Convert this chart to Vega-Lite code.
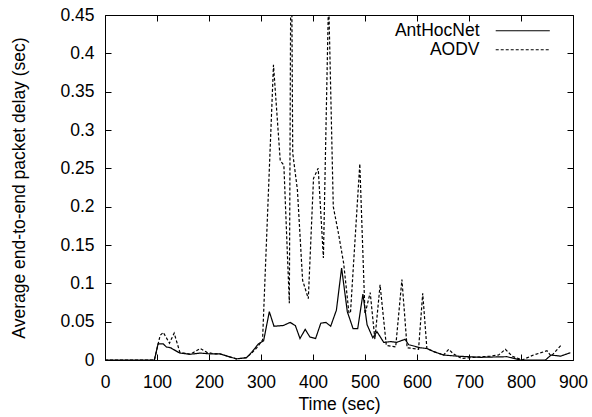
{
  "$schema": "https://vega.github.io/schema/vega-lite/v6.json",
  "width": 468,
  "height": 345,
  "autosize": {"type": "none"},
  "padding": {"left": 105, "top": 15, "right": 19, "bottom": 57},
  "background": "white",
  "config": {
    "font": "Liberation Sans",
    "view": {"stroke": "black", "strokeWidth": 1},
    "axis": {
      "grid": false,
      "domain": false,
      "tickColor": "black",
      "tickSize": -6,
      "tickWidth": 1,
      "labelColor": "black",
      "labelFontSize": 17.5,
      "labelFlush": false,
      "labelOverlap": false,
      "titleColor": "black",
      "titleFontSize": 17.5,
      "titleFontWeight": "normal"
    }
  },
  "datasets": {
    "d": [
      {"s": "AntHocNet", "t": 0, "v": 0},
      {"s": "AntHocNet", "t": 95, "v": 0},
      {"s": "AntHocNet", "t": 102, "v": 0.021},
      {"s": "AntHocNet", "t": 112, "v": 0.021},
      {"s": "AntHocNet", "t": 118, "v": 0.017},
      {"s": "AntHocNet", "t": 126, "v": 0.016},
      {"s": "AntHocNet", "t": 131, "v": 0.014},
      {"s": "AntHocNet", "t": 144, "v": 0.009},
      {"s": "AntHocNet", "t": 164, "v": 0.0075},
      {"s": "AntHocNet", "t": 183, "v": 0.009},
      {"s": "AntHocNet", "t": 202, "v": 0.008},
      {"s": "AntHocNet", "t": 221, "v": 0.008},
      {"s": "AntHocNet", "t": 240, "v": 0.004},
      {"s": "AntHocNet", "t": 253, "v": 0.0015},
      {"s": "AntHocNet", "t": 272, "v": 0.003},
      {"s": "AntHocNet", "t": 282, "v": 0.01},
      {"s": "AntHocNet", "t": 295, "v": 0.021},
      {"s": "AntHocNet", "t": 305, "v": 0.025},
      {"s": "AntHocNet", "t": 316, "v": 0.063},
      {"s": "AntHocNet", "t": 325, "v": 0.044},
      {"s": "AntHocNet", "t": 343, "v": 0.045},
      {"s": "AntHocNet", "t": 356, "v": 0.049},
      {"s": "AntHocNet", "t": 366, "v": 0.045},
      {"s": "AntHocNet", "t": 375, "v": 0.028},
      {"s": "AntHocNet", "t": 385, "v": 0.04},
      {"s": "AntHocNet", "t": 394, "v": 0.03},
      {"s": "AntHocNet", "t": 405, "v": 0.028},
      {"s": "AntHocNet", "t": 415, "v": 0.048},
      {"s": "AntHocNet", "t": 425, "v": 0.049},
      {"s": "AntHocNet", "t": 434, "v": 0.044},
      {"s": "AntHocNet", "t": 445, "v": 0.065},
      {"s": "AntHocNet", "t": 455, "v": 0.12},
      {"s": "AntHocNet", "t": 466, "v": 0.063},
      {"s": "AntHocNet", "t": 477, "v": 0.041},
      {"s": "AntHocNet", "t": 486, "v": 0.041},
      {"s": "AntHocNet", "t": 496, "v": 0.086},
      {"s": "AntHocNet", "t": 504, "v": 0.046},
      {"s": "AntHocNet", "t": 515, "v": 0.029},
      {"s": "AntHocNet", "t": 523, "v": 0.037},
      {"s": "AntHocNet", "t": 536, "v": 0.023},
      {"s": "AntHocNet", "t": 550, "v": 0.024},
      {"s": "AntHocNet", "t": 561, "v": 0.023},
      {"s": "AntHocNet", "t": 577, "v": 0.027},
      {"s": "AntHocNet", "t": 584, "v": 0.02},
      {"s": "AntHocNet", "t": 606, "v": 0.016},
      {"s": "AntHocNet", "t": 619, "v": 0.015},
      {"s": "AntHocNet", "t": 632, "v": 0.011},
      {"s": "AntHocNet", "t": 651, "v": 0.0065},
      {"s": "AntHocNet", "t": 677, "v": 0.005},
      {"s": "AntHocNet", "t": 722, "v": 0.0035},
      {"s": "AntHocNet", "t": 773, "v": 0.0043},
      {"s": "AntHocNet", "t": 799, "v": 0},
      {"s": "AntHocNet", "t": 847, "v": 0},
      {"s": "AntHocNet", "t": 858, "v": 0.0065},
      {"s": "AntHocNet", "t": 876, "v": 0.005},
      {"s": "AntHocNet", "t": 895, "v": 0.0095},
      {"s": "AODV", "t": 0, "v": 0},
      {"s": "AODV", "t": 95, "v": 0},
      {"s": "AODV", "t": 106, "v": 0.032},
      {"s": "AODV", "t": 112, "v": 0.036},
      {"s": "AODV", "t": 124, "v": 0.022},
      {"s": "AODV", "t": 133, "v": 0.035},
      {"s": "AODV", "t": 144, "v": 0.01},
      {"s": "AODV", "t": 164, "v": 0.0075},
      {"s": "AODV", "t": 183, "v": 0.015},
      {"s": "AODV", "t": 196, "v": 0.01},
      {"s": "AODV", "t": 210, "v": 0.008},
      {"s": "AODV", "t": 221, "v": 0.008},
      {"s": "AODV", "t": 240, "v": 0.004},
      {"s": "AODV", "t": 253, "v": 0.0015},
      {"s": "AODV", "t": 272, "v": 0.003},
      {"s": "AODV", "t": 282, "v": 0.009},
      {"s": "AODV", "t": 292, "v": 0.016},
      {"s": "AODV", "t": 303, "v": 0.026},
      {"s": "AODV", "t": 324, "v": 0.385},
      {"s": "AODV", "t": 337, "v": 0.26},
      {"s": "AODV", "t": 344, "v": 0.254},
      {"s": "AODV", "t": 354.5, "v": 0.074},
      {"s": "AODV", "t": 358, "v": 0.61},
      {"s": "AODV", "t": 361, "v": 0.27},
      {"s": "AODV", "t": 370, "v": 0.222},
      {"s": "AODV", "t": 380, "v": 0.104},
      {"s": "AODV", "t": 391, "v": 0.08},
      {"s": "AODV", "t": 401, "v": 0.237},
      {"s": "AODV", "t": 410, "v": 0.25},
      {"s": "AODV", "t": 420, "v": 0.133},
      {"s": "AODV", "t": 430, "v": 0.475},
      {"s": "AODV", "t": 439, "v": 0.2},
      {"s": "AODV", "t": 449, "v": 0.165},
      {"s": "AODV", "t": 459, "v": 0.126},
      {"s": "AODV", "t": 469, "v": 0.062},
      {"s": "AODV", "t": 472, "v": 0.061},
      {"s": "AODV", "t": 490, "v": 0.256},
      {"s": "AODV", "t": 500, "v": 0.06},
      {"s": "AODV", "t": 510, "v": 0.088},
      {"s": "AODV", "t": 519, "v": 0.027},
      {"s": "AODV", "t": 529, "v": 0.098},
      {"s": "AODV", "t": 541, "v": 0.019},
      {"s": "AODV", "t": 559, "v": 0.017},
      {"s": "AODV", "t": 571, "v": 0.105},
      {"s": "AODV", "t": 581, "v": 0.016},
      {"s": "AODV", "t": 603, "v": 0.014},
      {"s": "AODV", "t": 611, "v": 0.087},
      {"s": "AODV", "t": 619, "v": 0.015},
      {"s": "AODV", "t": 632, "v": 0.011},
      {"s": "AODV", "t": 651, "v": 0.0065},
      {"s": "AODV", "t": 661, "v": 0.014},
      {"s": "AODV", "t": 670, "v": 0.008},
      {"s": "AODV", "t": 686, "v": 0.002},
      {"s": "AODV", "t": 709, "v": 0.0035},
      {"s": "AODV", "t": 741, "v": 0.005},
      {"s": "AODV", "t": 757, "v": 0.0065},
      {"s": "AODV", "t": 770, "v": 0.014},
      {"s": "AODV", "t": 783, "v": 0.005},
      {"s": "AODV", "t": 802, "v": 0},
      {"s": "AODV", "t": 824, "v": 0.0065},
      {"s": "AODV", "t": 850, "v": 0.012},
      {"s": "AODV", "t": 858, "v": 0.005},
      {"s": "AODV", "t": 878, "v": 0.02}
    ]
  },
  "data": {"name": "d"},
  "layer": [
    {
      "mark": {"type": "line", "clip": true, "strokeWidth": 1.2},
      "encoding": {
        "x": {
          "field": "t", "type": "quantitative",
          "scale": {"domain": [0, 900], "nice": false, "zero": false},
          "axis": {
            "orient": "bottom",
            "values": [0, 100, 200, 300, 400, 500, 600, 700, 800, 900],
            "labelPadding": 19,
            "title": "Time (sec)",
            "titleY": 44,
            "titleBaseline": "middle"
          }
        },
        "y": {
          "field": "v", "type": "quantitative",
          "scale": {"domain": [0, 0.45], "nice": false},
          "axis": {
            "orient": "left",
            "values": [0, 0.05, 0.1, 0.15, 0.2, 0.25, 0.3, 0.35, 0.4, 0.45],
            "format": "~g",
            "labelPadding": 17,
            "title": "Average end-to-end packet delay (sec)",
            "titleX": -86,
            "titleBaseline": "middle"
          }
        },
        "color": {
          "field": "s", "type": "nominal",
          "scale": {"domain": ["AntHocNet", "AODV"], "range": ["black", "black"]},
          "legend": {
            "orient": "none", "legendX": 409, "legendY": 7, "title": null,
            "symbolType": "M-5,0H5", "symbolSize": 117, "symbolStrokeWidth": 1.2,
            "labelFontSize": 17.5, "labelColor": "black", "labelAlign": "right", "labelOffset": -52,
            "rowPadding": 0, "padding": 0
          }
        },
        "strokeDash": {
          "field": "s", "type": "nominal",
          "scale": {"domain": ["AntHocNet", "AODV"], "range": [[1, 0], [3, 2]]},
          "legend": {
            "orient": "none", "legendX": 409, "legendY": 7, "title": null,
            "symbolType": "M-5,0H5", "symbolSize": 117, "symbolStrokeWidth": 1.2,
            "labelFontSize": 17.5, "labelColor": "black", "labelAlign": "right", "labelOffset": -52,
            "rowPadding": 0, "padding": 0
          }
        }
      }
    },
    {
      "mark": {"type": "line", "opacity": 0},
      "encoding": {
        "x": {
          "field": "t", "type": "quantitative",
          "axis": {"orient": "top", "values": [0, 100, 200, 300, 400, 500, 600, 700, 800, 900], "labels": false, "title": null}
        },
        "y": {
          "field": "v", "type": "quantitative",
          "axis": {"orient": "right", "values": [0, 0.05, 0.1, 0.15, 0.2, 0.25, 0.3, 0.35, 0.4, 0.45], "labels": false, "title": null}
        },
        "detail": {"field": "s", "type": "nominal"}
      }
    }
  ],
  "resolve": {"axis": {"x": "independent", "y": "independent"}}
}
